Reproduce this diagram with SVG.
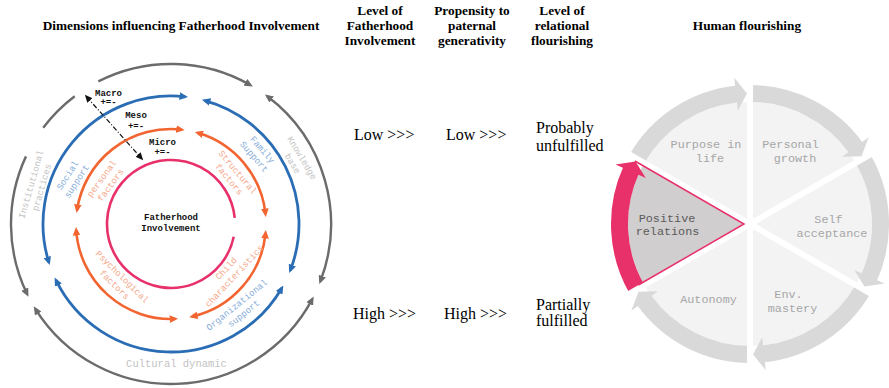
<svg xmlns="http://www.w3.org/2000/svg" width="889" height="388" viewBox="0 0 889 388">
<style>
.hd{font-family:"Liberation Serif","Times New Roman",serif;font-weight:bold;font-size:13.3px;fill:#000;text-anchor:middle}
.val{font-family:"Liberation Serif","Times New Roman",serif;font-size:16px;fill:#000}
.lvl{font-family:"Liberation Mono","Courier New",monospace;font-weight:bold;font-size:9px;fill:#111;text-anchor:middle}
.lab{font-family:"Liberation Mono","Courier New",monospace;font-size:9px;text-anchor:middle}
.lb{fill:#86acd9}.lo{fill:#f5a78a}.lg{fill:#c3c3c3}
.arc{fill:none}
.g{stroke:#6b6b6b;stroke-width:2.4}
.b{stroke:#2a6db5;stroke-width:2.8}
.o{stroke:#f26531;stroke-width:2.6}
.p{stroke:#e8306a;stroke-width:2.6}
.fill{fill:#f3f3f3}
.band{fill:#d9d9d9}
.div{stroke:#fff;stroke-width:6}
.wt{font-family:"Liberation Mono","Courier New",monospace;font-size:11.8px;fill:#a6a6a6;text-anchor:middle}
</style>
<defs>
<marker id="mg" viewBox="0 0 10 9" refX="6.5" refY="4.5" markerWidth="8.5" markerHeight="7.65" markerUnits="userSpaceOnUse" orient="auto-start-reverse"><path d="M0,0 L10,4.5 L0,9 z" fill="#6b6b6b"/></marker>
<marker id="mb" viewBox="0 0 10 9" refX="6.5" refY="4.5" markerWidth="8.5" markerHeight="7.65" markerUnits="userSpaceOnUse" orient="auto-start-reverse"><path d="M0,0 L10,4.5 L0,9 z" fill="#2a6db5"/></marker>
<marker id="mo" viewBox="0 0 10 9" refX="6.5" refY="4.5" markerWidth="8.5" markerHeight="7.65" markerUnits="userSpaceOnUse" orient="auto-start-reverse"><path d="M0,0 L10,4.5 L0,9 z" fill="#f26531"/></marker>
<marker id="mk" viewBox="0 0 10 9" refX="6.5" refY="4.5" markerWidth="7.5" markerHeight="6.75" markerUnits="userSpaceOnUse" orient="auto-start-reverse"><path d="M0,0 L10,4.5 L0,9 z" fill="#111"/></marker>
</defs>
<rect width="889" height="388" fill="#fff"/>

<g id="headers">
<text class="hd" x="181" y="29.5">Dimensions influencing Fatherhood Involvement</text>
<text class="hd" x="380" y="14.5">Level of</text>
<text class="hd" x="380" y="29.5">Fatherhood</text>
<text class="hd" x="380" y="44.5">Involvement</text>
<text class="hd" x="472" y="14.5">Propensity to</text>
<text class="hd" x="472" y="29.5">paternal</text>
<text class="hd" x="472" y="44.5">generativity</text>
<text class="hd" x="562" y="14.5">Level of</text>
<text class="hd" x="562" y="29.5">relational</text>
<text class="hd" x="562" y="44.5">flourishing</text>
<text class="hd" x="747" y="29.5">Human flourishing</text>
</g>

<g id="values">
<text class="val" x="354" y="140">Low &gt;&gt;&gt;</text>
<text class="val" x="446" y="140">Low &gt;&gt;&gt;</text>
<text class="val" x="536" y="133">Probably</text>
<text class="val" x="536" y="151">unfulfilled</text>
<text class="val" x="353" y="319">High &gt;&gt;&gt;</text>
<text class="val" x="444" y="319">High &gt;&gt;&gt;</text>
<text class="val" x="536" y="309.5">Partially</text>
<text class="val" x="536" y="326">fulfilled</text>
</g>

<g id="connectors">
<path class="arc g" d="M98.36,81.44 A160,160 0 0 1 250.27,85.02" marker-end="url(#mg)"/>
<path class="arc g" d="M267.29,96.22 A160,160 0 0 1 320.37,281.34" marker-start="url(#mg)" marker-end="url(#mg)"/>
<path class="arc g" d="M312.27,299.12 A160,160 0 0 1 35.31,308.79" marker-start="url(#mg)" marker-end="url(#mg)"/>
<path class="arc g" d="M27.19,294.14 A160,160 0 0 1 25.99,156.38" marker-start="url(#mg)"/>
<path class="arc g" d="M43.22,127.71 A160,160 0 0 1 74.71,96.22"/>
<path class="arc b" d="M204.78,100.54 A128,128 0 0 1 290.34,270.29" marker-start="url(#mb)" marker-end="url(#mb)"/>
<path class="arc b" d="M281.85,288 A128,128 0 0 1 55.95,280.11" marker-start="url(#mb)" marker-end="url(#mb)"/>
<path class="arc b" d="M48.86,262.28 A128,128 0 0 1 185.05,96.77" marker-start="url(#mb)" marker-end="url(#mb)"/>
<path class="arc o" d="M197.66,132.82 A95,95 0 0 1 265.48,214.07" marker-start="url(#mo)" marker-end="url(#mo)"/>
<path class="arc o" d="M265.58,232.94 A95,95 0 0 1 192.05,316.64" marker-start="url(#mo)" marker-end="url(#mo)"/>
<path class="arc o" d="M175.14,318.91 A95,95 0 0 1 76.19,229.97" marker-start="url(#mo)" marker-end="url(#mo)"/>
<path class="arc o" d="M77.04,209.96 A95,95 0 0 1 181.75,129.61" marker-start="url(#mo)" marker-end="url(#mo)"/>
<path class="arc p" d="M233.71,236.76 A64,64 0 1 1 234.72,217.98"/>
<path d="M86.6,96.8 L141.4,158.2" fill="none" stroke="#111" stroke-width="1.2" stroke-dasharray="5 2 1 2" marker-start="url(#mk)" marker-end="url(#mk)"/>
</g>

<g id="levels">
<text class="lvl" x="108.5" y="96">Macro</text>
<text class="lvl" x="108.5" y="105">+=-</text>
<text class="lvl" x="136" y="118">Meso</text>
<text class="lvl" x="136" y="128.5">+=-</text>
<text class="lvl" x="162.5" y="145">Micro</text>
<text class="lvl" x="162.5" y="155">+=-</text>
</g>

<g id="center-node">
<text class="lvl" x="171" y="220">Fatherhood</text>
<text class="lvl" x="171" y="231">Involvement</text>
</g>

<g id="labels">
<text class="lab lg" transform="translate(36.8,186) rotate(-74)"><tspan x="0" y="-3">Institutional</tspan><tspan x="0" y="8">practices</tspan></text>
<text class="lab lb" transform="translate(72.5,178.5) rotate(-57)"><tspan x="0" y="-3">Social</tspan><tspan x="0" y="8">support</tspan></text>
<text class="lab lo" transform="translate(106.5,182) rotate(-54)"><tspan x="0" y="-3">personal</tspan><tspan x="0" y="8">factors</tspan></text>
<text class="lab lb" transform="translate(258,153.5) rotate(49)"><tspan x="0" y="-3">Family</tspan><tspan x="0" y="8">Support</tspan></text>
<text class="lab lg" transform="translate(297,161) rotate(59)"><tspan x="0" y="-3">Knowledge</tspan><tspan x="0" y="8">base</tspan></text>
<text class="lab lo" transform="translate(233,176) rotate(50)"><tspan x="0" y="-3">Structural</tspan><tspan x="0" y="8">factors</tspan></text>
<text class="lab lo" transform="translate(118,281) rotate(44.5)"><tspan x="0" y="-3">Psychological</tspan><tspan x="0" y="8">factors</tspan></text>
<text class="lab lo" transform="translate(230.5,272.5) rotate(-47)"><tspan x="0" y="-3">Child</tspan><tspan x="0" y="8">characteristics</tspan></text>
<text class="lab lb" transform="translate(240.5,309.5) rotate(-39)"><tspan x="0" y="-3">Organizational</tspan><tspan x="0" y="8">support</tspan></text>
<text class="lab lg" x="176.5" y="367" style="font-size:10.5px">Cultural dynamic</text>
</g>

<g id="wheel">
<g id="fills">
<path class="fill" d="M750,224 L644.34,163 A122,122 0 0 1 750,102 Z"/>
<path class="fill" d="M750,224 L750,102 A122,122 0 0 1 855.66,163 Z"/>
<path class="fill" d="M750,224 L855.66,163 A122,122 0 0 1 855.66,285 Z"/>
<path class="fill" d="M750,224 L855.66,285 A122,122 0 0 1 750,346 Z"/>
<path class="fill" d="M750,224 L750,346 A122,122 0 0 1 644.34,285 Z"/>
<path fill="#d1cecf" d="M750,224 L644.34,285 A122,122 0 0 1 644.34,163 Z"/>
</g>
<g id="bands">
<path class="band" d="M629.62,154.5 A139,139 0 0 1 735.95,85.71 L737.67,102.62 A122,122 0 0 0 644.34,163 Z"/>
<path class="band" d="M750,85 A139,139 0 0 1 862.74,142.69 L848.95,152.63 A122,122 0 0 0 750,102 Z"/>
<path class="band" d="M870.38,154.5 A139,139 0 0 1 876.78,280.98 L861.28,274.01 A122,122 0 0 0 855.66,163 Z"/>
<path class="band" d="M870.38,293.5 A139,139 0 0 1 764.05,362.29 L762.33,345.38 A122,122 0 0 0 855.66,285 Z"/>
<path class="band" d="M750,363 A139,139 0 0 1 637.26,305.31 L651.05,295.37 A122,122 0 0 0 750,346 Z"/>
<path fill="#e8306a" d="M629.62,293.5 A139,139 0 0 1 623.22,167.02 L638.72,173.99 A122,122 0 0 0 644.34,285 Z"/>
</g>
<g id="dividers">
<line class="div" x1="750" y1="224" x2="750" y2="72"/>
<line class="div" x1="750" y1="224" x2="881.64" y2="148"/>
<line class="div" x1="750" y1="224" x2="881.64" y2="300"/>
<line class="div" x1="750" y1="224" x2="750" y2="376"/>
<line class="div" x1="750" y1="224" x2="618.36" y2="300"/>
<line class="div" x1="750" y1="224" x2="618.36" y2="148"/>
</g>
<g id="wheel-arrows">
<path class="band" d="M746.99,93.54 L737.79,110.66 L734.25,77.85 Z"/>
<path class="band" d="M861.48,156.16 L842.05,156.75 L868.70,137.28 Z"/>
<path class="band" d="M864.49,286.62 L854.27,270.09 L884.45,283.44 Z"/>
<path class="band" d="M753.01,354.46 L762.21,337.34 L765.75,370.15 Z"/>
<path class="band" d="M638.52,291.84 L657.95,291.25 L631.30,310.72 Z"/>
<path fill="#e8306a" d="M635.51,161.38 L645.73,177.91 L615.55,164.56 Z"/>
</g>
<g id="positive-outline">
<path d="M634.88,161 L744,224 L638.34,285" fill="none" stroke="#e8306a" stroke-width="1.5"/>
</g>
<g id="purpose"><text class="wt" x="706" y="147.5">Purpose in</text><text class="wt" x="710" y="161.5">life</text></g>
<g id="growth"><text class="wt" x="790.5" y="147.5">Personal</text><text class="wt" x="795" y="161.5">growth</text></g>
<g id="self"><text class="wt" x="828.5" y="223">Self</text><text class="wt" x="832" y="236.5">acceptance</text></g>
<g id="mastery"><text class="wt" x="788.5" y="298">Env.</text><text class="wt" x="792.5" y="312">mastery</text></g>
<g id="autonomy"><text class="wt" x="708.5" y="303">Autonomy</text></g>
<g id="relations"><text class="wt" x="667" y="221.5" style="fill:#5a5a5a">Positive</text><text class="wt" x="667.5" y="234.5" style="fill:#5a5a5a">relations</text></g>
</g>
</svg>
